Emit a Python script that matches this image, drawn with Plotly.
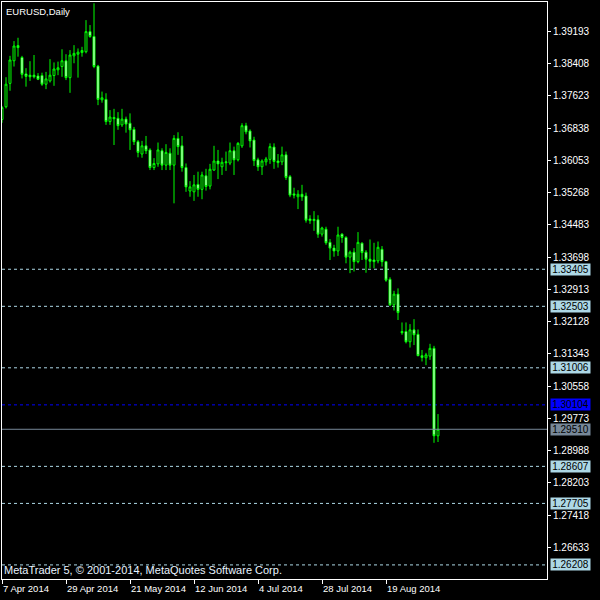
import plotly.graph_objects as go

# ---- data (EURUSD daily) ----
opens = [
1.3705,1.3736,1.3793,1.3848,1.3885,1.3856,1.3816,1.3813,1.3813,1.3811,
1.3812,1.3791,1.3799,1.3812,1.3826,1.3834,1.3848,1.3807,1.3860,1.3864,
1.3868,1.3870,1.3919,1.3907,1.3835,1.3753,1.3754,1.3700,1.3710,1.3708,
1.3692,1.3706,1.3696,1.3681,1.3651,1.3621,1.3641,1.3631,1.3588,1.3597,
1.3629,1.3594,1.3623,1.3594,1.3659,1.3641,1.3588,1.3531,1.3529,1.3547,
1.3535,1.3568,1.3543,1.3582,1.3604,1.3590,1.3602,1.3599,1.3629,1.3607,
1.3641,1.3690,1.3677,1.3655,1.3607,1.3590,1.3602,1.3608,1.3638,1.3604,
1.3602,1.3619,1.3566,1.3524,1.3517,1.3523,1.3519,1.3463,1.3462,1.3461,
1.3426,1.3438,1.3406,1.3392,1.3385,1.3426,1.3418,1.3370,1.3382,1.3359,
1.3404,1.3382,1.3365,1.3363,1.3361,1.3389,1.3359,1.3316,1.3254,1.3280,
1.3189,1.3189,1.3164,1.3193,1.3182,1.3130,1.3125,1.3129,1.3148,1.2935]
highs = [
1.3738,1.3808,1.3860,1.3896,1.3904,1.3860,1.3830,1.3847,1.3862,1.3818,
1.3819,1.3821,1.3852,1.3844,1.3846,1.3876,1.3864,1.3874,1.3886,1.3878,
1.3882,1.3947,1.3935,1.3988,1.3838,1.3773,1.3769,1.3728,1.3731,1.3723,
1.3731,1.3712,1.3720,1.3687,1.3655,1.3653,1.3665,1.3635,1.3611,1.3649,
1.3635,1.3645,1.3635,1.3667,1.3674,1.3665,1.3598,1.3555,1.3570,1.3578,
1.3578,1.3585,1.3597,1.3641,1.3631,1.3612,1.3627,1.3649,1.3639,1.3650,
1.3696,1.3697,1.3681,1.3663,1.3612,1.3608,1.3614,1.3647,1.3647,1.3621,
1.3639,1.3627,1.3570,1.3539,1.3533,1.3546,1.3527,1.3472,1.3482,1.3472,
1.3444,1.3444,1.3414,1.3400,1.3444,1.3428,1.3421,1.3386,1.3392,1.3431,
1.3406,1.3387,1.3413,1.3405,1.3408,1.3397,1.3361,1.3321,1.3288,1.3294,
1.3211,1.3211,1.3207,1.3219,1.3194,1.3144,1.3137,1.3159,1.3154,1.2988]
lows = [
1.3697,1.3732,1.3775,1.3834,1.3858,1.3805,1.3785,1.3799,1.3805,1.3801,
1.3787,1.3779,1.3795,1.3787,1.3813,1.3809,1.3801,1.3770,1.3842,1.3807,
1.3858,1.3866,1.3904,1.3830,1.3740,1.3746,1.3692,1.3692,1.3643,1.3680,
1.3687,1.3673,1.3631,1.3643,1.3613,1.3612,1.3621,1.3582,1.3582,1.3590,
1.3582,1.3582,1.3582,1.3501,1.3619,1.3578,1.3529,1.3517,1.3507,1.3517,
1.3511,1.3532,1.3535,1.3580,1.3560,1.3570,1.3580,1.3594,1.3570,1.3603,
1.3636,1.3669,1.3637,1.3592,1.3580,1.3570,1.3593,1.3597,1.3585,1.3588,
1.3594,1.3558,1.3516,1.3513,1.3487,1.3507,1.3454,1.3451,1.3434,1.3417,
1.3420,1.3400,1.3363,1.3371,1.3373,1.3405,1.3355,1.3331,1.3335,1.3355,
1.3363,1.3332,1.3343,1.3343,1.3355,1.3347,1.3310,1.3251,1.3240,1.3217,
1.3181,1.3160,1.3150,1.3156,1.3129,1.3116,1.3107,1.3120,1.2918,1.2920]
closes = [
1.3734,1.3791,1.3850,1.3884,1.3880,1.3815,1.3810,1.3809,1.3809,1.3803,
1.3791,1.3804,1.3813,1.3828,1.3831,1.3848,1.3807,1.3862,1.3866,1.3869,
1.3873,1.3919,1.3907,1.3834,1.3754,1.3758,1.3700,1.3711,1.3707,1.3690,
1.3706,1.3694,1.3680,1.3651,1.3625,1.3641,1.3629,1.3588,1.3598,1.3631,
1.3594,1.3625,1.3594,1.3659,1.3639,1.3588,1.3541,1.3541,1.3546,1.3535,
1.3570,1.3542,1.3584,1.3604,1.3597,1.3601,1.3600,1.3629,1.3607,1.3647,
1.3690,1.3675,1.3653,1.3605,1.3590,1.3604,1.3609,1.3639,1.3603,1.3600,
1.3619,1.3564,1.3521,1.3521,1.3523,1.3517,1.3460,1.3459,1.3459,1.3426,
1.3441,1.3405,1.3392,1.3385,1.3424,1.3418,1.3370,1.3382,1.3359,1.3406,
1.3381,1.3365,1.3360,1.3359,1.3394,1.3359,1.3314,1.3254,1.3280,1.3235,
1.3186,1.3164,1.3193,1.3181,1.3130,1.3126,1.3132,1.3148,1.2935,1.2951]

date_tick_index = [0, 16, 32, 48, 64, 80, 96]
date_tick_labels = ["7 Apr 2014", "29 Apr 2014", "21 May 2014", "12 Jun 2014",
                    "4 Jul 2014", "28 Jul 2014", "19 Aug 2014"]

price_ticks = [1.39193, 1.38408, 1.37623, 1.36838, 1.36053, 1.35268, 1.34483,
               1.33698, 1.32913, 1.32128, 1.31343, 1.30558, 1.29773, 1.28988,
               1.28203, 1.27418, 1.26633]

level_lines = [1.33405, 1.32503, 1.31006, 1.28607, 1.27705, 1.26208]
blue_level = 1.30104
bid_level = 1.29510

symbol_title = "EURUSD,Daily"
footer_text = "MetaTrader 5, © 2001-2014, MetaQuotes Software Corp."

# ---- figure ----
GREEN = "#00FF00"
FONT = "Liberation Sans"
FS = 9.5
PFS = 10
LIGHTBLUE = "#ADD8E6"
bars = list(range(len(opens)))

fig = go.Figure(go.Candlestick(
    x=bars, open=opens, high=highs, low=lows, close=closes,
    increasing=dict(line=dict(color=GREEN, width=1), fillcolor="black"),
    decreasing=dict(line=dict(color=GREEN, width=1), fillcolor="white"),
    whiskerwidth=0, hoverinfo="skip",
))

shapes = []
for lv in level_lines:
    shapes.append(dict(type="line", xref="paper", x0=0, x1=1, yref="y", y0=lv, y1=lv,
                       line=dict(color=LIGHTBLUE, width=1, dash="3px,3px"), layer="below"))
shapes.append(dict(type="line", xref="paper", x0=0, x1=1, yref="y", y0=blue_level, y1=blue_level,
                   line=dict(color="#0000FF", width=1, dash="3px,3px"), layer="below"))
shapes.append(dict(type="line", xref="paper", x0=0, x1=1, yref="y", y0=bid_level, y1=bid_level,
                   line=dict(color="#778899", width=1), layer="above"))

ann = []
def price_label(v, bg, fg):
    ann.append(dict(xref="paper", x=1, xanchor="left", xshift=3, yref="y", y=v, yanchor="middle",
                    text=f"{v:.5f}", showarrow=False, bgcolor=bg, borderpad=0,
                    width=39, height=11, align="center",
                    font=dict(family=FONT, size=PFS, color=fg)))
for lv in level_lines:
    price_label(lv, LIGHTBLUE, "black")
price_label(blue_level, "#0000FF", "black")
price_label(bid_level, "#778899", "black")

for idx, lab in zip(date_tick_index, date_tick_labels):
    ann.append(dict(xref="x", x=idx, xanchor="left", xshift=-1, yref="paper", y=0, yanchor="top",
                    yshift=-2, text=lab, showarrow=False,
                    font=dict(family=FONT, size=FS, color="white")))

ann.append(dict(xref="paper", x=0, xanchor="left", xshift=2, yref="paper", y=1, yanchor="top",
                yshift=-2, text=symbol_title, showarrow=False,
                font=dict(family=FONT, size=FS, color="white")))
ann.append(dict(xref="paper", x=0, xanchor="left", xshift=0, yref="paper", y=0, yanchor="bottom",
                yshift=1, text=footer_text, showarrow=False,
                font=dict(family=FONT, size=11, color="#E8F4FF")))

fig.update_layout(
    width=600, height=600,
    margin=dict(l=2, r=53, t=2, b=21, pad=0),
    paper_bgcolor="black", plot_bgcolor="black",
    showlegend=False,
    shapes=shapes, annotations=ann,
    xaxis=dict(range=[0, 136.25], showgrid=False, zeroline=False,
               rangeslider=dict(visible=False),
               showline=True, linecolor="white", linewidth=1, mirror=True,
               tickvals=date_tick_index, ticktext=[""] * len(date_tick_index),
               ticks="outside", ticklen=4, tickcolor="white", showticklabels=False),
    yaxis=dict(range=[1.25865, 1.39911], side="right", showgrid=False, zeroline=False,
               showline=True, linecolor="white", linewidth=1, mirror=True,
               tickvals=price_ticks, ticktext=[f"{v:.5f}" for v in price_ticks],
               ticks="outside", ticklen=3, tickcolor="white",
               tickfont=dict(family=FONT, size=PFS, color="white")),
)

fig.write_html("out.html",
               config={"displayModeBar": False, "staticPlot": True},
               post_script="document.body.style.margin='0';document.body.style.padding='0';"
                           "document.body.style.background='black';document.body.style.overflow='hidden';")
